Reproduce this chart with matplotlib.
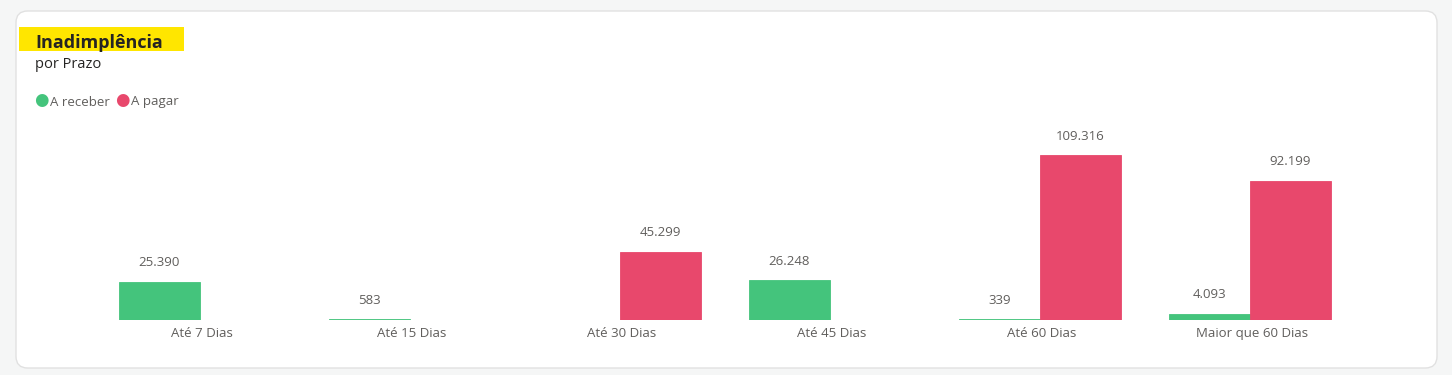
import matplotlib.pyplot as plt
import numpy as np
from matplotlib.patches import FancyBboxPatch, Rectangle

plt.rcParams['font.family'] = ['Open Sans', 'DejaVu Sans']

categorias = ['Até 7 Dias', 'Até 15 Dias', 'Até 30 Dias', 'Até 45 Dias', 'Até 60 Dias', 'Maior que 60 Dias']
a_receber = [25390, 583, 0, 26248, 339, 4093]
a_pagar = [0, 0, 45299, 0, 109316, 92199]

verde = '#44C47C'
vermelho = '#E8486C'
cinza = '#605E5C'

W, H = 1452, 375
fig = plt.figure(figsize=(W / 100, H / 100), dpi=100)
fig.patch.set_facecolor('#F5F6F6')

# cartão branco
card = FancyBboxPatch((16 / W, 1 - 368 / H), (1437 - 16) / W, (368 - 11) / H,
                      boxstyle='round,pad=0,rounding_size=0.008', transform=fig.transFigure,
                      facecolor='white', edgecolor='#E1E1E1', linewidth=1, mutation_aspect=W / H,
                      zorder=-5)
fig.patches.append(card)

# título com fundo amarelo
fig.patches.append(Rectangle((19 / W, 1 - 51 / H), (184 - 19) / W, 24 / H,
                             transform=fig.transFigure, facecolor='#FFE600', edgecolor='none', zorder=-4))
fig.text(35 / W, 1 - 43 / H, 'Inadimplência', fontsize=13, fontweight='bold', color='#252423', va='center')
fig.text(35 / W, 1 - 64 / H, 'por Prazo', fontsize=10.5, color='#252423', va='center')

# legenda
fig.text(34 / W, 1 - 101 / H, '●', fontsize=12, color=verde, va='center')
fig.text(50 / W, 1 - 102 / H, 'A receber', fontsize=9.5, color=cinza, va='center')
fig.text(115 / W, 1 - 101 / H, '●', fontsize=12, color=vermelho, va='center')
fig.text(131 / W, 1 - 102 / H, 'A pagar', fontsize=9.5, color=cinza, va='center')

# eixo do gráfico
ax = fig.add_axes([95 / W, 1 - 320 / H, 1260 / W, 200 / H])
x = np.arange(len(categorias))
w = 0.386
b1 = ax.bar(x - w / 2, a_receber, w, color=verde, edgecolor=verde, linewidth=0.6)
b2 = ax.bar(x + w / 2, a_pagar, w, color=vermelho, edgecolor=vermelho, linewidth=0.6)
for r, v in zip(b2, a_pagar):
    if v == 0:
        r.set_linewidth(0)

def fmt(v):
    return f'{v:,}'.replace(',', '.')

for bars, vals in ((b1, a_receber), (b2, a_pagar)):
    for r, v in zip(bars, vals):
        if v > 0:
            ax.annotate(fmt(v), (r.get_x() + r.get_width() / 2, v), xytext=(0, 9),
                        textcoords='offset points', ha='center', va='bottom',
                        fontsize=9.5, color=cinza)

ax.set_xlim(-0.5, len(categorias) - 0.5)
ax.set_ylim(0, 109316 * 200 / 165)
ax.set_xticks(x + 0.01)
ax.set_xticklabels(categorias, fontsize=9.5, color=cinza)
ax.tick_params(axis='x', length=0, pad=5)
ax.set_yticks([])
for s in ax.spines.values():
    s.set_visible(False)
ax.patch.set_alpha(0)

fig.savefig('out.png', dpi=100)
